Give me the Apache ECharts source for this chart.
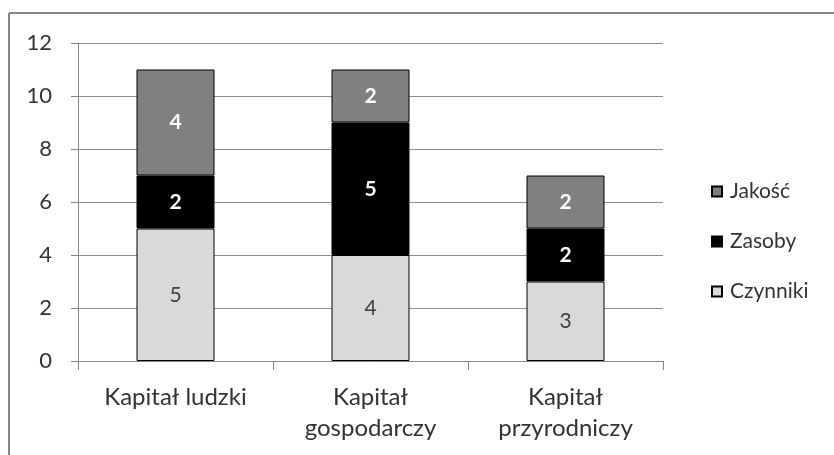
<!DOCTYPE html>
<html>
<head>
<meta charset="utf-8">
<script src="https://cdn.jsdelivr.net/npm/echarts@6/dist/echarts.min.js"></script>
<style>html,body{margin:0;padding:0;background:#fff}#c{width:834px;height:455px}</style>
</head>
<body>
<div id="c"></div>
<script>
var categories = ['Kapitał ludzki', 'Kapitał\ngospodarczy', 'Kapitał\nprzyrodniczy'];
var czynniki = [5, 4, 3];
var zasoby = [2, 5, 2];
var jakosc = [4, 2, 2];
var yTicks = [0, 2, 4, 6, 8, 10, 12];

var FONT = 'Lato';
var chart = echarts.init(document.getElementById('c'), null, {renderer: 'canvas'});
function series(name, data, color, labelColor, bold) {
  return {
    name: name, type: 'bar', stack: 'a', data: data, barWidth: 78,
    itemStyle: {color: color, borderColor: '#000', borderWidth: 1},
    label: {show: true, position: 'inside', color: labelColor, fontFamily: FONT, fontSize: 21, fontWeight: bold ? 'bold' : 'normal'},
    emphasis: {disabled: true}
  };
}
chart.setOption({
  animation: false,
  graphic: [
    {type: 'line', shape: {x1: 9, y1: 13, x2: 834, y2: 13}, style: {stroke: '#868686', lineWidth: 2}},
    {type: 'line', shape: {x1: 9, y1: 13, x2: 9, y2: 455}, style: {stroke: '#868686', lineWidth: 2}}
  ],
  grid: {left: 78, right: 171, top: 43, bottom: 94, containLabel: false},
  legend: {
    orient: 'vertical', left: 706, top: 176, itemWidth: 10, itemHeight: 10, itemGap: 29,
    data: ['Jakość', 'Zasoby', 'Czynniki'],
    textStyle: {fontFamily: FONT, fontSize: 21, color: '#333', lineHeight: 20, padding: [0, 0, 0, 3]},
    icon: 'rect'
  },
  xAxis: {
    type: 'category', data: categories,
    axisLine: {lineStyle: {color: '#868686', width: 1}},
    axisTick: {show: true, length: 9, lineStyle: {color: '#868686'}},
    axisLabel: {fontFamily: FONT, fontSize: 24, color: '#333', margin: 21, lineHeight: 31, interval: 0}
  },
  yAxis: {
    type: 'value', min: yTicks[0], max: yTicks[yTicks.length - 1], interval: 2,
    axisLine: {show: true, lineStyle: {color: '#868686'}},
    axisTick: {show: true, length: 7, lineStyle: {color: '#868686'}},
    axisLabel: {fontFamily: FONT, fontSize: 22, color: '#333', margin: 26},
    splitLine: {lineStyle: {color: '#8f8f8f', width: 1}}
  },
  series: [
    series('Czynniki', czynniki, '#d9d9d9', '#404040', false),
    series('Zasoby', zasoby, '#000000', '#ffffff', true),
    series('Jakość', jakosc, '#808080', '#ffffff', true)
  ]
});
</script>
</body>
</html>
